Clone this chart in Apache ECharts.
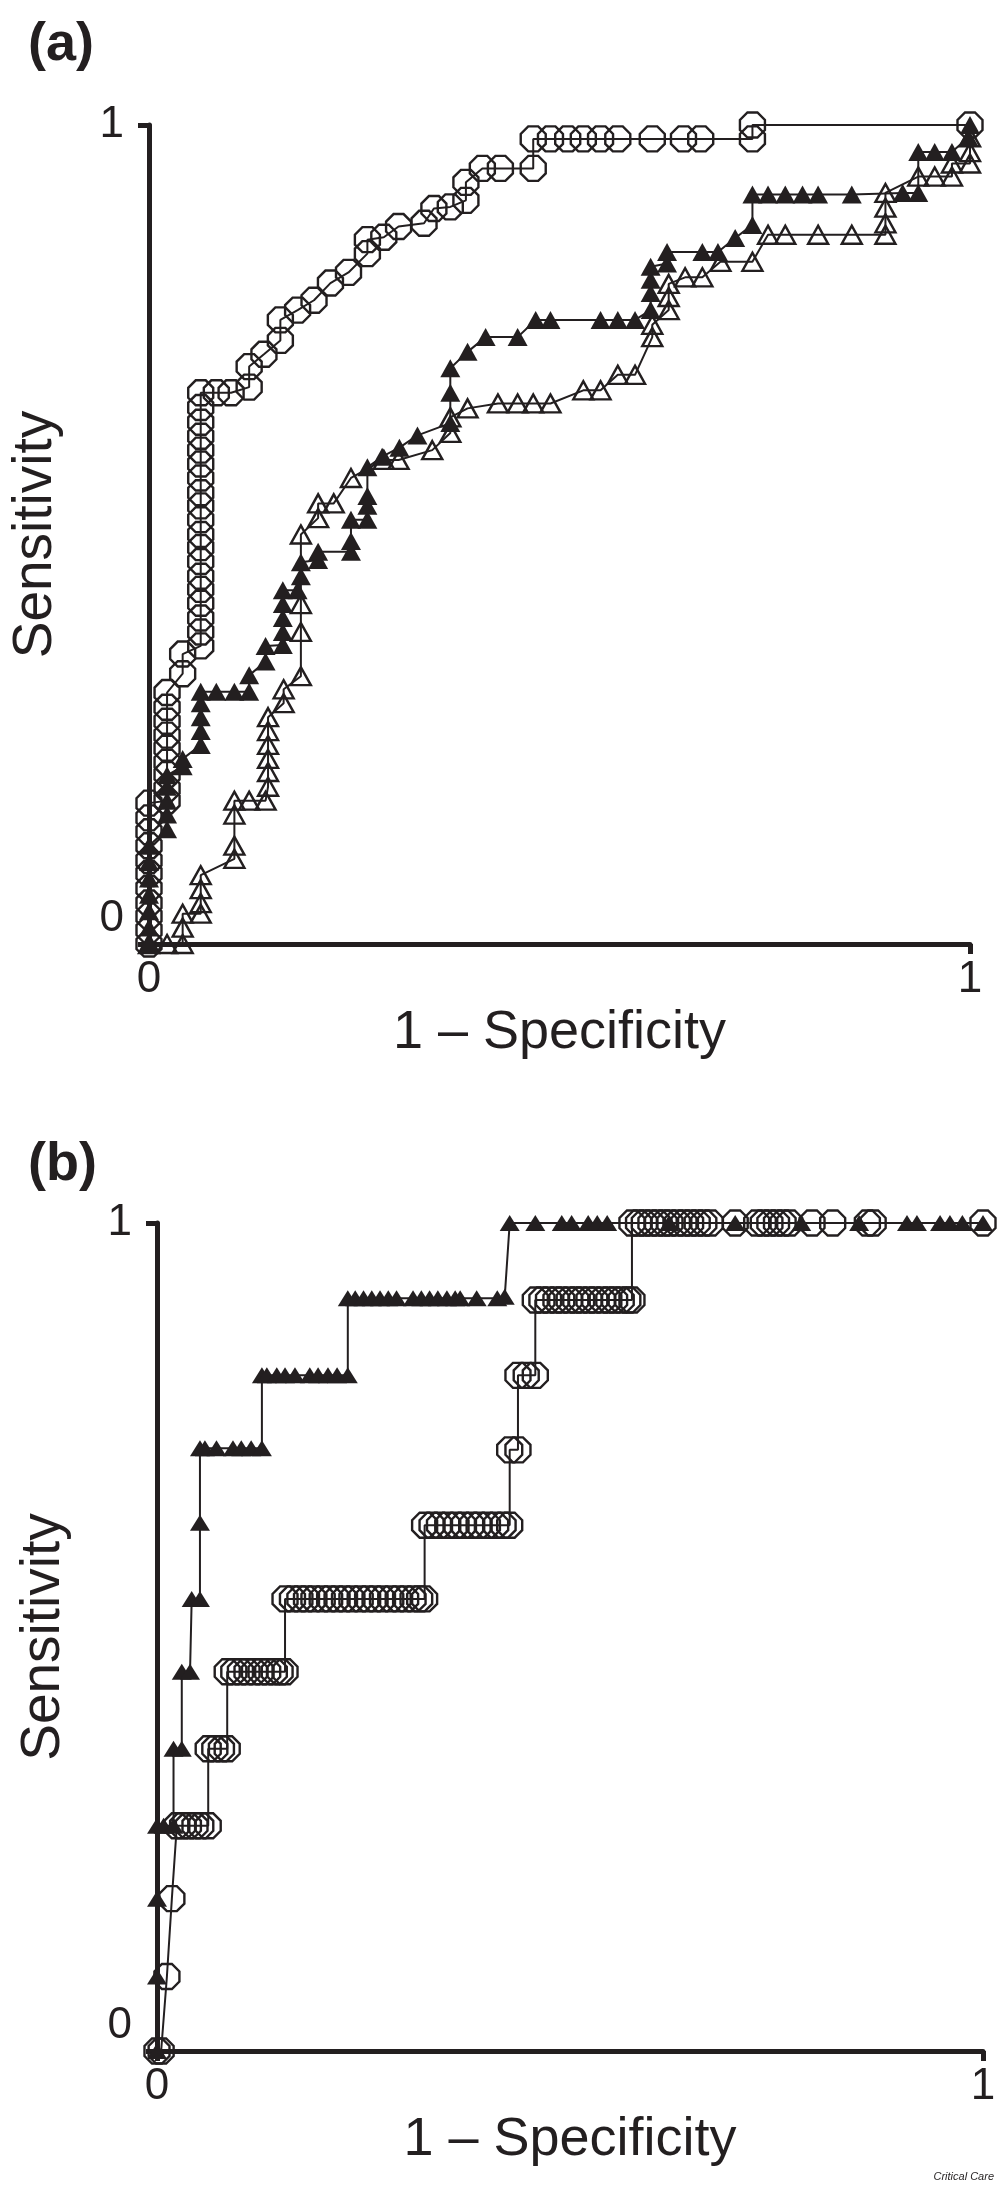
<!DOCTYPE html>
<html>
<head>
<meta charset="utf-8">
<script src="https://cdn.jsdelivr.net/npm/echarts@6/dist/echarts.min.js"></script>
<style>
  html, body { margin: 0; padding: 0; background: #fff; }
  #roc { width: 1000px; height: 2186px; }
</style>
</head>
<body>
<div id="roc"></div>
<script>
// ticks shared by both panels
const tickValues = [0, 1];
const xName = "1 \u2013 Specificity";
const yName = "Sensitivity";

// panel (a) - open octagons
const aCircleX = [0, 0, 0, 0, 0, 0, 0, 0, 0, 0, 0,
  0.022, 0.022, 0.022, 0.022, 0.022, 0.022, 0.022, 0.022, 0.022,
  0.041, 0.041,
  0.063, 0.063, 0.063, 0.063, 0.063, 0.063, 0.063, 0.063, 0.063, 0.063, 0.063, 0.063, 0.063, 0.063, 0.063, 0.063, 0.063, 0.063, 0.063,
  0.082, 0.1, 0.122, 0.122, 0.14, 0.16, 0.16, 0.181, 0.201, 0.221, 0.243, 0.266, 0.266, 0.286, 0.304, 0.335, 0.347, 0.367,
  0.386, 0.386, 0.406, 0.428, 0.468, 0.468, 0.489, 0.51, 0.529, 0.55, 0.571, 0.613, 0.651, 0.672, 0.735, 0.735, 1];
const aCircleY = [0, 0.017, 0.034, 0.05, 0.068, 0.086, 0.102, 0.12, 0.137, 0.154, 0.172,
  0.175, 0.19, 0.207, 0.222, 0.239, 0.255, 0.272, 0.289, 0.307,
  0.33, 0.354,
  0.364, 0.381, 0.398, 0.416, 0.433, 0.449, 0.467, 0.484, 0.5, 0.518, 0.535, 0.551, 0.569, 0.586, 0.603, 0.62, 0.637, 0.655, 0.673,
  0.673, 0.673, 0.68, 0.705, 0.72, 0.737, 0.762, 0.774, 0.786, 0.807, 0.82, 0.843, 0.86, 0.863, 0.876, 0.88, 0.898, 0.9,
  0.908, 0.93, 0.947, 0.947, 0.947, 0.983, 0.983, 0.983, 0.983, 0.983, 0.983, 0.983, 0.983, 0.983, 0.983, 1, 1];

// panel (a) - filled triangles
const aFilledX = [0, 0, 0, 0, 0, 0, 0,
  0.022, 0.022, 0.022, 0.022, 0.022, 0.041, 0.041,
  0.063, 0.063, 0.063, 0.063, 0.063, 0.082, 0.104, 0.122, 0.122, 0.142, 0.142,
  0.163, 0.163, 0.163, 0.163, 0.163, 0.181, 0.185, 0.185, 0.206, 0.206, 0.246, 0.246, 0.246,
  0.266, 0.266, 0.266, 0.266, 0.284, 0.305, 0.327, 0.367, 0.367, 0.367, 0.388, 0.41, 0.449,
  0.471, 0.489, 0.55, 0.571, 0.592, 0.611, 0.611, 0.611, 0.611, 0.631, 0.631, 0.674, 0.693,
  0.714, 0.735, 0.735, 0.754, 0.775, 0.796, 0.815, 0.856, 0.918, 0.937, 0.937, 0.957, 0.978, 0.998, 1];
const aFilledY = [0, 0.02, 0.04, 0.06, 0.08, 0.1, 0.12,
  0.14, 0.158, 0.175, 0.192, 0.206, 0.217, 0.226,
  0.243, 0.26, 0.277, 0.294, 0.308, 0.308, 0.308, 0.308, 0.328, 0.345, 0.364,
  0.365, 0.381, 0.398, 0.415, 0.432, 0.432, 0.449, 0.466, 0.469, 0.479, 0.479, 0.492, 0.518,
  0.518, 0.535, 0.547, 0.582, 0.595, 0.606, 0.621, 0.636, 0.673, 0.703, 0.723, 0.741, 0.741,
  0.762, 0.762, 0.762, 0.762, 0.762, 0.774, 0.795, 0.811, 0.827, 0.831, 0.845, 0.845, 0.845,
  0.862, 0.878, 0.915, 0.915, 0.915, 0.915, 0.915, 0.915, 0.917, 0.917, 0.967, 0.967, 0.967, 0.985, 1];

// panel (a) - open triangles
const aOpenX = [0, 0.022, 0.041, 0.041, 0.041, 0.063, 0.063, 0.063, 0.063,
  0.104, 0.104, 0.104, 0.104, 0.122, 0.142, 0.145, 0.145, 0.145, 0.145, 0.145, 0.145,
  0.164, 0.164, 0.185, 0.185, 0.185, 0.185, 0.206, 0.206, 0.225, 0.246, 0.286, 0.304, 0.345,
  0.367, 0.367, 0.388, 0.425, 0.449, 0.468, 0.489, 0.529, 0.55, 0.571, 0.592,
  0.613, 0.613, 0.633, 0.633, 0.633, 0.653, 0.674, 0.696, 0.735, 0.754, 0.775, 0.815, 0.856,
  0.897, 0.897, 0.897, 0.897, 0.937, 0.957, 0.978, 0.978, 1, 1, 1];
const aOpenY = [0, 0, 0, 0.02, 0.037, 0.037, 0.05, 0.067, 0.084,
  0.104, 0.12, 0.158, 0.175, 0.175, 0.175, 0.192, 0.21, 0.226, 0.243, 0.26, 0.277,
  0.294, 0.311, 0.327, 0.381, 0.415, 0.5, 0.52, 0.538, 0.538, 0.569, 0.591, 0.591, 0.603,
  0.624, 0.643, 0.654, 0.66, 0.66, 0.66, 0.66, 0.676, 0.676, 0.695, 0.695,
  0.741, 0.756, 0.774, 0.79, 0.806, 0.814, 0.814, 0.833, 0.833, 0.866, 0.866, 0.866, 0.866,
  0.866, 0.88, 0.899, 0.917, 0.937, 0.937, 0.937, 0.953, 0.953, 0.967, 0.985];

// panel (b) - open octagons
const bCircleX = [0, 0.005, 0.012, 0.018,
  0.024, 0.031, 0.038, 0.046, 0.053, 0.062,
  0.062, 0.07, 0.078, 0.085,
  0.085, 0.093, 0.101, 0.109, 0.118, 0.126, 0.134, 0.142, 0.149, 0.155,
  0.155, 0.164, 0.173, 0.181, 0.19, 0.2, 0.209, 0.218, 0.227, 0.236, 0.246, 0.255, 0.264, 0.273, 0.283, 0.292, 0.301, 0.31, 0.318, 0.324,
  0.324, 0.333, 0.342, 0.352, 0.362, 0.371, 0.381, 0.39, 0.4, 0.41, 0.419, 0.427,
  0.427, 0.437,
  0.437, 0.447, 0.458,
  0.458, 0.466, 0.474, 0.483, 0.49, 0.499, 0.507, 0.514, 0.523, 0.53, 0.539, 0.547, 0.554, 0.562, 0.57, 0.575,
  0.575, 0.583, 0.59, 0.598, 0.606, 0.614, 0.621, 0.63, 0.638, 0.646, 0.654, 0.662, 0.67, 0.7,
  0.726, 0.734, 0.742, 0.75, 0.758, 0.766, 0.793, 0.818, 0.86, 0.867, 1];
const bCircleY = [0, 0, 0.09, 0.184,
  0.272, 0.272, 0.272, 0.272, 0.272, 0.272,
  0.365, 0.365, 0.365, 0.365,
  0.458, 0.458, 0.458, 0.458, 0.458, 0.458, 0.458, 0.458, 0.458, 0.458,
  0.546, 0.546, 0.546, 0.546, 0.546, 0.546, 0.546, 0.546, 0.546, 0.546, 0.546, 0.546, 0.546, 0.546, 0.546, 0.546, 0.546, 0.546, 0.546, 0.546,
  0.635, 0.635, 0.635, 0.635, 0.635, 0.635, 0.635, 0.635, 0.635, 0.635, 0.635, 0.635,
  0.726, 0.726,
  0.816, 0.816, 0.816,
  0.907, 0.907, 0.907, 0.907, 0.907, 0.907, 0.907, 0.907, 0.907, 0.907, 0.907, 0.907, 0.907, 0.907, 0.907, 0.907,
  1, 1, 1, 1, 1, 1, 1, 1, 1, 1, 1, 1, 1, 1,
  1, 1, 1, 1, 1, 1, 1, 1, 1, 1, 1];

// panel (b) - filled triangles
const bFilledX = [0, 0, 0, 0, 0.008, 0.02, 0.02, 0.03, 0.03, 0.04, 0.042, 0.052, 0.052, 0.052,
  0.058, 0.072, 0.092, 0.102, 0.114, 0.127, 0.127, 0.133, 0.145, 0.155, 0.167, 0.185, 0.195, 0.207, 0.218, 0.231,
  0.231, 0.24, 0.25, 0.26, 0.27, 0.28, 0.29, 0.31, 0.32, 0.33, 0.34, 0.351, 0.361, 0.367, 0.387, 0.412, 0.421,
  0.427, 0.458, 0.49, 0.502, 0.522, 0.533, 0.545, 0.62, 0.7, 0.78, 0.85, 0.908, 0.92, 0.948, 0.96, 0.975, 1];
const bFilledY = [0, 0.09, 0.184, 0.272, 0.272, 0.272, 0.365, 0.365, 0.458, 0.458, 0.546, 0.546, 0.638, 0.728,
  0.728, 0.728, 0.728, 0.728, 0.728, 0.728, 0.816, 0.816, 0.816, 0.816, 0.816, 0.816, 0.816, 0.816, 0.816, 0.816,
  0.909, 0.909, 0.909, 0.909, 0.909, 0.909, 0.909, 0.909, 0.909, 0.909, 0.909, 0.909, 0.909, 0.909, 0.909, 0.909, 0.911,
  1, 1, 1, 1, 1, 1, 1, 1, 1, 1, 1, 1, 1, 1, 1, 1, 1];

const ink = "#231f20";
const font = "Liberation Sans, Arial, sans-serif";
const octagon = "path://M30,0 L70,0 L100,30 L100,70 L70,100 L30,100 L0,70 L0,30 Z";

function zip(xs, ys) {
  return xs.map((x, i) => [x, ys[i]]);
}

function makeXAxis(gridIndex) {
  return {
    gridIndex: gridIndex,
    type: "value",
    min: tickValues[0],
    max: tickValues[1],
    interval: 1,
    name: xName,
    nameLocation: "middle",
    nameGap: 62,
    nameTextStyle: { fontSize: 54, fontFamily: font, color: ink },
    axisLine: { show: true, onZero: false, lineStyle: { color: ink, width: 5 } },
    axisTick: { show: true, length: 10, lineStyle: { color: ink, width: 5 } },
    axisLabel: { margin: 14, fontSize: 44, fontFamily: font, color: ink },
    splitLine: { show: false },
  };
}

function makeYAxis(gridIndex) {
  return {
    gridIndex: gridIndex,
    type: "value",
    min: tickValues[0],
    max: tickValues[1],
    interval: 1,
    name: yName,
    nameLocation: "middle",
    nameGap: 86,
    nameTextStyle: { fontSize: 55, fontFamily: font, color: ink },
    axisLine: { show: true, onZero: false, lineStyle: { color: ink, width: 5 } },
    axisTick: { show: true, length: 11, lineStyle: { color: ink, width: 5 } },
    axisLabel: {
      margin: 25,
      formatter: (v) => (v === 0 ? "{lo|0}" : "{hi|1}"),
      rich: {
        lo: { fontSize: 44, fontFamily: font, color: ink, padding: [0, 0, 50, 0] },
        hi: { fontSize: 44, fontFamily: font, color: ink },
      },
    },
    splitLine: { show: false },
  };
}

function makeSeries(idx, data, symbol, size, filled) {
  return {
    type: "line",
    xAxisIndex: idx,
    yAxisIndex: idx,
    data: data,
    symbol: symbol,
    symbolSize: size,
    showAllSymbol: true,
    clip: false,
    animation: false,
    lineStyle: { color: ink, width: 2 },
    itemStyle: {
      color: filled ? ink : "rgba(0,0,0,0)",
      borderColor: ink,
      borderWidth: filled ? 0 : 2.4,
    },
  };
}

const chart = echarts.init(document.getElementById("roc"), null, { renderer: "canvas" });
chart.setOption({
  backgroundColor: "#fff",
  animation: false,
  title: [
    { text: "(a)", left: 28, top: 18, padding: 0, textStyle: { fontSize: 54, fontWeight: "bold", fontFamily: font, color: ink } },
    { text: "(b)", left: 28, top: 1138, padding: 0, textStyle: { fontSize: 54, fontWeight: "bold", fontFamily: font, color: ink } },
    { text: "Critical Care", right: 6, top: 2171, padding: 0, textStyle: { fontSize: 11, fontStyle: "italic", fontWeight: "normal", fontFamily: font, color: ink } },
  ],
  grid: [
    { left: 148, top: 125, width: 822, height: 819 },
    { left: 157, top: 1223, width: 826, height: 828 },
  ],
  xAxis: [makeXAxis(0), makeXAxis(1)],
  yAxis: [makeYAxis(0), makeYAxis(1)],
  series: [
    makeSeries(0, zip(aCircleX, aCircleY), octagon, 25, false),
    makeSeries(0, zip(aOpenX, aOpenY), "triangle", [20, 18], false),
    makeSeries(0, zip(aFilledX, aFilledY), "triangle", [20, 18], true),
    makeSeries(1, zip(bCircleX, bCircleY), octagon, 25, false),
    makeSeries(1, zip(bFilledX, bFilledY), "triangle", [20, 16], true),
  ],
});
</script>
</body>
</html>
